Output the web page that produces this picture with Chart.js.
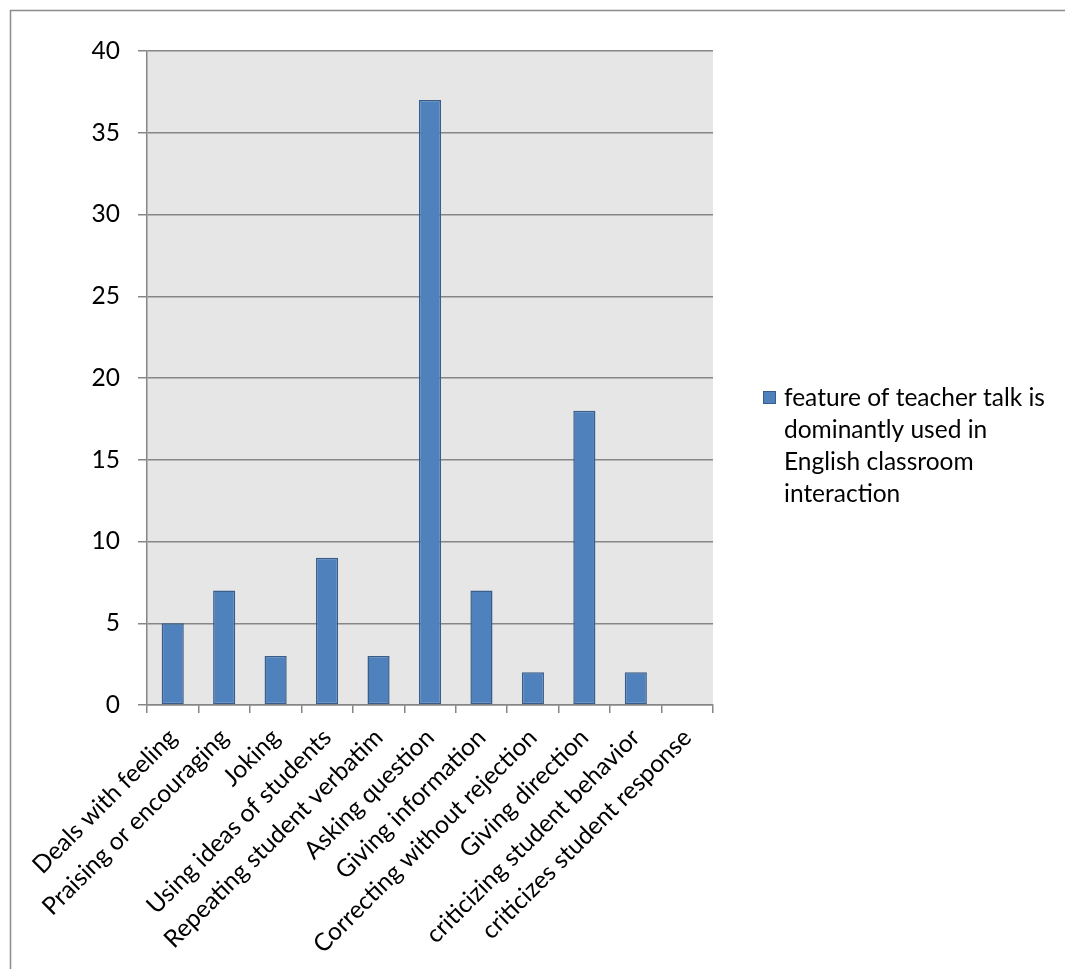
<!DOCTYPE html>
<html>
<head>
<meta charset="utf-8">
<script src="https://cdn.jsdelivr.net/npm/chart.js@4"></script>
<style>
  html, body { margin: 0; padding: 0; background: #fff; }
  #wrap { width: 1065px; height: 969px; position: relative; }
</style>
</head>
<body>
<div id="wrap"><canvas id="c" width="1065" height="969"></canvas></div>
<script>
const categories = [
  "Deals with feeling",
  "Praising or encouraging",
  "Joking",
  "Using ideas of students",
  "Repeating student verbatim",
  "Asking question",
  "Giving information",
  "Correcting without rejection",
  "Giving direction",
  "criticizing student behavior",
  "criticizes student response"
];
const seriesValues = [5, 7, 3, 9, 3, 37, 7, 2, 18, 2, 0];
const seriesName = "feature of teacher talk is dominantly used in English classroom interaction";
const legendLines = ["feature of teacher talk is", "dominantly used in", "English classroom", "interaction"];
const yTicks = [0, 5, 10, 15, 20, 25, 30, 35, 40];

const FONT = "Lato, 'Open Sans', sans-serif";
const GRID = "#868686";

const decor = {
  id: "decor",
  beforeDraw(chart) {
    const ctx = chart.ctx;
    const a = chart.chartArea;
    ctx.save();
    ctx.fillStyle = "#ffffff";
    ctx.fillRect(0, 0, chart.width, chart.height);
    ctx.strokeStyle = "#8c8c8c";
    ctx.lineWidth = 1.5;
    ctx.beginPath();
    ctx.moveTo(10.5, chart.height + 5);
    ctx.lineTo(10.5, 10.5);
    ctx.lineTo(chart.width + 5, 10.5);
    ctx.stroke();
    ctx.fillStyle = "#e6e6e6";
    ctx.fillRect(a.left, a.top, a.right - a.left, a.bottom - a.top);
    ctx.restore();
  },
  afterDraw(chart) {
    const ctx = chart.ctx;
    ctx.save();
    const sx = 763, sy = 391, s = 13;
    ctx.fillStyle = "#4f81bd";
    ctx.fillRect(sx, sy, s, s);
    ctx.strokeStyle = "#385d8a";
    ctx.lineWidth = 1;
    ctx.strokeRect(sx + 0.5, sy + 0.5, s - 1, s - 1);
    ctx.fillStyle = "#000";
    ctx.font = "24.5px " + FONT;
    ctx.textBaseline = "middle";
    ctx.textAlign = "left";
    legendLines.forEach((t, i) => ctx.fillText(t, 784, 398 + i * 32));
    ctx.restore();
  }
};

new Chart(document.getElementById("c"), {
  type: "bar",
  data: {
    labels: categories,
    datasets: [{
      label: seriesName,
      data: seriesValues,
      backgroundColor: "#4f81bd",
      borderColor: "#385d8a",
      borderWidth: 1.5,
      borderSkipped: false,
      categoryPercentage: 1,
      barPercentage: 0.43
    }]
  },
  options: {
    responsive: false,
    animation: false,
    devicePixelRatio: 1,
    layout: { padding: { left: 0, top: 51, right: 352, bottom: 0 } },
    plugins: { legend: { display: false }, tooltip: { enabled: false } },
    scales: {
      x: {
        afterFit(scale) { scale.height = 264; },
        grid: { display: true, offset: true, drawOnChartArea: false, drawTicks: true, tickLength: 8, color: GRID, lineWidth: 1.5 },
        border: { display: true, color: GRID, width: 1.5 },
        ticks: {
          color: "#000",
          font: { family: FONT, size: 24.5 },
          minRotation: 45, maxRotation: 45, padding: 10, autoSkip: false
        }
      },
      y: {
        min: 0, max: 40,
        afterFit(scale) { scale.width = 147; },
        afterBuildTicks(scale) { scale.ticks = yTicks.map(v => ({ value: v })); },
        grid: { color: GRID, lineWidth: 1.5, drawTicks: true, tickLength: 9 },
        border: { display: true, color: GRID, width: 1.5 },
        ticks: {
          color: "#000",
          font: { family: FONT, size: 24.5 },
          padding: 18
        }
      }
    }
  },
  plugins: [decor]
});
</script>
</body>
</html>
